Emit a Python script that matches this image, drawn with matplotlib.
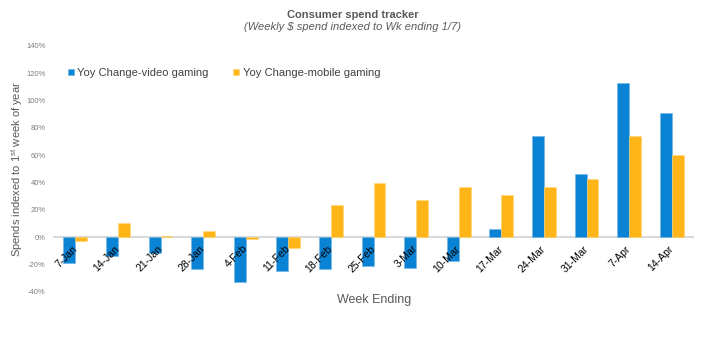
import matplotlib.pyplot as plt
import numpy as np

plt.rcParams['font.family'] = ['Liberation Sans', 'DejaVu Sans']
plt.rcParams['mathtext.fontset'] = 'custom'
plt.rcParams['mathtext.rm'] = 'Liberation Sans'

# Weekly YoY change (%) by week ending
weeks = ['7-Jan', '14-Jan', '21-Jan', '28-Jan', '4-Feb', '11-Feb', '18-Feb', '25-Feb',
         '3-Mar', '10-Mar', '17-Mar', '24-Mar', '31-Mar', '7-Apr', '14-Apr']
video_gaming = [-19, -14, -11.5, -23.5, -32.5, -24.5, -23, -21,
                -22.5, -17, 6, 74.5, 46.5, 113, 91]
mobile_gaming = [-3, 10.5, 1, 5, -1, -8, 24, 40,
                 27, 36.5, 31, 36.5, 43, 74, 60.5]

blue = '#0A83D4'
orange = '#FFB517'
grey = '#595959'

fig = plt.figure(figsize=(7.06, 3.46), dpi=100)
ax = fig.add_axes([54 / 706, 1 - 292 / 346, (693 - 54) / 706, (292 - 46) / 346])

x = np.arange(len(weeks))
w = 0.28
ax.bar(x - w / 2, video_gaming, w, color=blue, edgecolor='#6db7e8', linewidth=0.4,
       label='Yoy Change-video gaming', zorder=2)
ax.bar(x + w / 2, mobile_gaming, w, color=orange, edgecolor='#ffd47a', linewidth=0.4,
       label='Yoy Change-mobile gaming', zorder=2)

ax.set_xlim(-0.5, len(weeks) - 0.5)
ax.set_ylim(-40, 140)
ax.set_yticks(np.arange(-40, 141, 20))
ax.set_yticklabels([f'{v}%' for v in range(-40, 141, 20)], fontsize=5.5, color='#7f7f7f')

# category axis sits on the zero line
for s in ['top', 'right', 'left']:
    ax.spines[s].set_visible(False)
ax.spines['bottom'].set_position(('data', 0))
ax.spines['bottom'].set_color('#d9d9d9')
ax.spines['bottom'].set_linewidth(1.5)
ax.spines['bottom'].set_zorder(1)

ax.set_xticks(x)
ax.set_xticklabels(weeks, fontsize=7.5, color='black', rotation=45,
                   ha='right', va='center', rotation_mode='anchor')
ax.tick_params(axis='x', length=0, pad=7)
ax.tick_params(axis='y', length=0, pad=6)
# week labels are drawn over the bars
ax.xaxis.set_zorder(5)

ax.set_ylabel(r'Spends indexed to 1$^{\mathrm{st}}$ week of year', fontsize=8.0, color=grey)
ax.yaxis.set_label_coords(-29 / 639, 0.5)
fig.text(374 / 706, 1 - 300 / 346, 'Week Ending', fontsize=9, color=grey, ha='center', va='center')

fig.text(0.5, 1 - 15 / 346, 'Consumer spend tracker', fontsize=8, fontweight='bold',
         color=grey, ha='center', va='center')
fig.text(0.5, 1 - 27 / 346, '(Weekly $ spend indexed to Wk ending 1/7)', fontsize=8,
         style='italic', color=grey, ha='center', va='center')

fig.legend(loc='center left', bbox_to_anchor=(68 / 706, 1 - 73 / 346), ncol=2, frameon=False,
           fontsize=8, handlelength=0.55, handleheight=0.55, handletextpad=0.3,
           columnspacing=2.2, borderpad=0, borderaxespad=0, labelcolor='#404040')

fig.savefig('out.png', dpi=100)
